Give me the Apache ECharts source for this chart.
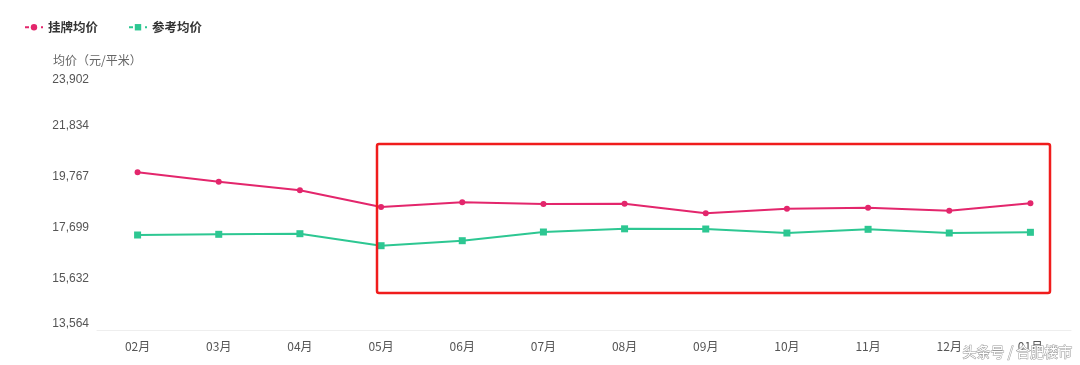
<!DOCTYPE html>
<html>
<head>
<meta charset="utf-8">
<script src="https://cdn.jsdelivr.net/npm/echarts@6/dist/echarts.min.js"></script>
<style>html,body{margin:0;padding:0;background:#fff;}#c{width:1080px;height:365px;}</style>
</head>
<body>
<div id="c"></div>
<script>
var categories = ['02月','03月','04月','05月','06月','07月','08月','09月','10月','11月','12月','01月'];
var listingPrice = [19932, 19552, 19205, 18531, 18720, 18650, 18660, 18276, 18462, 18503, 18381, 18680];
var referencePrice = [17400, 17428, 17453, 16968, 17170, 17521, 17650, 17642, 17481, 17630, 17481, 17509];
var yMin = 13564, yMax = 23902;
var seriesNames = ['挂牌均价', '参考均价'];

var chart = echarts.init(document.getElementById('c'));
var interval = (yMax - yMin) / 5;
chart.setOption({
  animation: false,
  legend: {
    left: 19, top: 16, itemGap: 30, itemWidth: 18, itemHeight: 8,
    lineStyle: { type: [4, 4], width: 2 },
    textStyle: { fontSize: 12.5, fontWeight: 'bold', color: '#333', fontFamily: 'Noto Sans CJK SC' },
    data: [seriesNames[0], seriesNames[1]]
  },
  grid: { left: 97, right: 9, top: 74, bottom: 35, containLabel: false },
  xAxis: {
    type: 'category',
    data: categories,
    boundaryGap: true,
    axisLine: { lineStyle: { color: '#eeeeee' } },
    axisTick: { lineStyle: { color: '#eeeeee' } },
    axisLabel: { color: '#555', fontSize: 12, margin: 10, fontFamily: 'Noto Sans CJK SC' }
  },
  yAxis: {
    type: 'value',
    min: yMin, max: yMax, interval: interval,
    name: '均价（元/平米）',
    nameLocation: 'end',
    nameGap: 8,
    nameTextStyle: { color: '#666', fontSize: 12, align: 'left', padding: [0, 0, 0, -44], fontFamily: 'Noto Sans CJK SC' },
    axisLine: { show: false },
    axisTick: { show: false },
    splitLine: { show: false },
    axisLabel: {
      color: '#555', fontSize: 12, margin: 8, fontFamily: 'Arial, Liberation Sans',
      verticalAlignMinLabel: 'bottom', verticalAlignMaxLabel: 'top',
      formatter: function (v) { return Math.round(v).toLocaleString('en-US'); }
    }
  },
  series: [
    {
      name: seriesNames[0], type: 'line', data: listingPrice,
      symbol: 'circle', symbolSize: 6,
      itemStyle: { color: '#e3266c' },
      lineStyle: { width: 2, color: '#e3266c' }
    },
    {
      name: seriesNames[1], type: 'line', data: referencePrice,
      symbol: 'rect', symbolSize: 7,
      itemStyle: { color: '#2dc792' },
      lineStyle: { width: 2, color: '#2dc792' }
    }
  ],
  graphic: [
    {
      type: 'rect', z: 100,
      shape: { x: 377, y: 144, width: 673, height: 149, r: 2 },
      style: { fill: 'none', stroke: '#f01c1c', lineWidth: 2.5 }
    },
    {
      type: 'text', z: 101, left: 962, top: 344,
      style: {
        text: '头条号 / 合肥楼市', fill: '#ffffff', stroke: '#999', lineWidth: 1,
        fontSize: 14, fontFamily: 'Noto Sans CJK SC'
      }
    }
  ]
});
</script>
</body>
</html>
